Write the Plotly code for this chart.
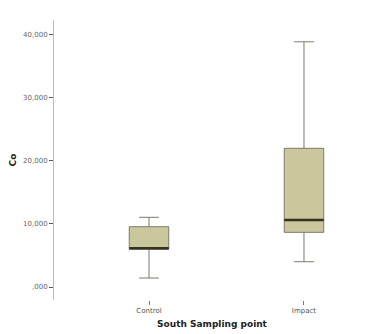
import plotly.graph_objects as go

categories = ["Control", "Impact"]
q1 = [5970, 8650]
median = [6120, 10600]
q3 = [9540, 21950]
lower_whisker = [1420, 4000]
upper_whisker = [11030, 38800]

ytick_vals = [0, 10000, 20000, 30000, 40000]
ytick_text = [",000", "10,000", "20,000", "30,000", "40,000"]

xpos = list(range(len(categories)))
box_w = 0.255

fig = go.Figure()
fig.add_trace(go.Box(
    x=xpos, q1=q1, median=median, q3=q3,
    lowerfence=lower_whisker, upperfence=upper_whisker,
    width=box_w, whiskerwidth=0.5,
    fillcolor="#CBC79C", line=dict(color="#7a7a70", width=1),
    boxpoints=False, hoverinfo="skip", showlegend=False,
))
for i, m in zip(xpos, median):
    fig.add_trace(go.Scatter(
        x=[i - box_w / 2, i + box_w / 2], y=[m, m], mode="lines",
        line=dict(color="#35321f", width=2.5), showlegend=False, hoverinfo="skip",
    ))

fig.update_layout(
    width=369, height=326,
    margin=dict(l=46, r=7, t=12, b=34),
    paper_bgcolor="white", plot_bgcolor="white",
    font=dict(family="DejaVu Sans", color="#555"),
    xaxis=dict(
        range=[-0.613, 1.426], tickvals=xpos, ticktext=categories,
        showgrid=False, zeroline=False, showline=False,
        ticks="outside", ticklen=4, tickcolor="#777",
        tickfont=dict(size=7, color="#555"),
        automargin=False,
        title=dict(text="<b>South Sampling point</b>", font=dict(size=9, color="#222"), standoff=6),
    ),
    yaxis=dict(
        range=[-2057, 42250], tickvals=ytick_vals, ticktext=ytick_text,
        showgrid=False, zeroline=False, showline=True, linecolor="#bbb", linewidth=1,
        ticks="outside", ticklen=4, tickcolor="#555",
        tickfont=dict(size=7, color="#666"),
        automargin=False,
        title=dict(text="<b>Co</b>", font=dict(size=9, color="#222"), standoff=18),
    ),
)
fig.write_html("out.html")
